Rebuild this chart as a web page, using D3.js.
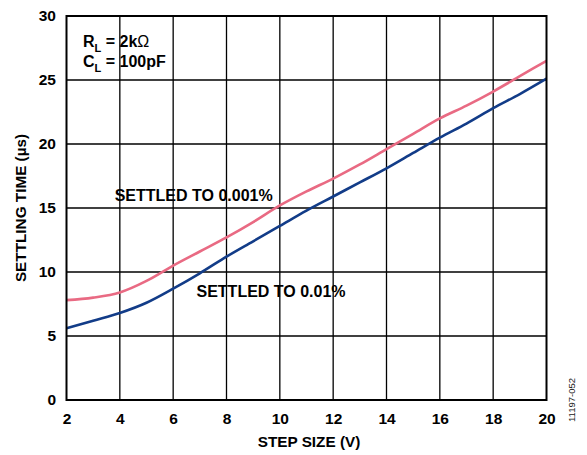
<!DOCTYPE html>
<html><head><meta charset="utf-8">
<script src="https://cdn.jsdelivr.net/npm/d3@7"></script>
<style>body{margin:0;background:#fff}svg{display:block}text{font-family:"Liberation Sans",Arial,sans-serif}</style>
</head><body><svg id="c" width="587" height="455"></svg>
<script>
const stepSize = [2, 3, 4, 5, 6, 7, 8, 9, 10, 11, 12, 13, 14, 15, 16, 17, 18, 19, 20];
const settled0001 = [7.8, 8.0, 8.4, 9.3, 10.5, 11.6, 12.7, 13.9, 15.2, 16.3, 17.3, 18.4, 19.6, 20.8, 22.0, 23.0, 24.1, 25.3, 26.5];
const settled001 = [5.6, 6.2, 6.8, 7.6, 8.7, 9.9, 11.2, 12.4, 13.6, 14.8, 15.9, 17.0, 18.1, 19.3, 20.5, 21.6, 22.8, 23.9, 25.1];
const xTicks = [2, 4, 6, 8, 10, 12, 14, 16, 18, 20];
const yTicks = [0, 5, 10, 15, 20, 25, 30];

const svg = d3.select("#c");
const L = 66.5, R = 546.5, T = 16, B = 400;
const x = d3.scaleLinear().domain([2, 20]).range([L, R]);
const y = d3.scaleLinear().domain([0, 30]).range([B, T]);
const FF = "Liberation Sans, Arial, sans-serif";

// grid
svg.append("g").selectAll("line").data(xTicks.slice(1, -1)).join("line")
  .attr("x1", d => x(d)).attr("x2", d => x(d)).attr("y1", T).attr("y2", B)
  .attr("stroke", "#000").attr("stroke-width", 1.3);
svg.append("g").selectAll("line").data(yTicks.slice(1, -1)).join("line")
  .attr("y1", d => y(d)).attr("y2", d => y(d)).attr("x1", L).attr("x2", R)
  .attr("stroke", "#000").attr("stroke-width", 1.3);

// lines
const line = (vals) => d3.line().x((d, i) => x(stepSize[i])).y(d => y(d)).curve(d3.curveMonotoneX)(vals);
svg.append("path").attr("d", line(settled0001)).attr("fill", "none").attr("stroke", "#E96A83").attr("stroke-width", 2.6);
svg.append("path").attr("d", line(settled001)).attr("fill", "none").attr("stroke", "#123C88").attr("stroke-width", 2.6);

// border
svg.append("rect").attr("x", L).attr("y", T).attr("width", R - L).attr("height", B - T)
  .attr("fill", "none").attr("stroke", "#000").attr("stroke-width", 2);

// axes tick labels
const xAxis = d3.axisBottom(x).tickValues(xTicks).tickSize(0).tickPadding(12.5);
const gx = svg.append("g").attr("transform", `translate(0,${B})`).call(xAxis);
gx.select(".domain").remove();
gx.selectAll("text").attr("font-size", 15.5).attr("font-weight", "bold").attr("fill", "#000").attr("font-family", FF);
const yAxis = d3.axisLeft(y).tickValues(yTicks).tickSize(0).tickPadding(10.5);
const gy = svg.append("g").attr("transform", `translate(${L},0)`).call(yAxis);
gy.select(".domain").remove();
gy.selectAll("text").attr("font-size", 15.5).attr("font-weight", "bold").attr("fill", "#000").attr("font-family", FF);

// axis titles
svg.append("text").attr("x", 309).attr("y", 447).attr("text-anchor", "middle")
  .attr("font-size", 15.3).attr("font-weight", "bold").text("STEP SIZE (V)");
svg.append("text").attr("transform", `translate(26,${(T + B) / 2}) rotate(-90)`).attr("text-anchor", "middle")
  .attr("font-size", 15.3).attr("font-weight", "bold").text("SETTLING TIME (µs)");

// annotations
const ann = svg.append("g").attr("font-size", 16).attr("font-weight", "bold");
const t1 = ann.append("text").attr("x", 83).attr("y", 47.3);
t1.append("tspan").text("R");
t1.append("tspan").attr("font-size", 11).attr("dy", 5).text("L");
t1.append("tspan").attr("dy", -5).text(" = 2k");
t1.append("tspan").attr("font-weight", "normal").text("Ω");
const t2 = ann.append("text").attr("x", 83).attr("y", 67.3);
t2.append("tspan").text("C");
t2.append("tspan").attr("font-size", 11).attr("dy", 5).text("L");
t2.append("tspan").attr("dy", -5).text(" = 100pF");

ann.append("text").attr("x", 114.7).attr("y", 200.5).text("SETTLED TO 0.001%");
ann.append("text").attr("x", 196.5).attr("y", 296.7).text("SETTLED TO 0.01%");

svg.append("text").attr("transform", "translate(575,400) rotate(-90)").attr("text-anchor", "middle")
  .attr("font-size", 9.5).attr("fill", "#222").text("11197-052");
</script></body></html>
